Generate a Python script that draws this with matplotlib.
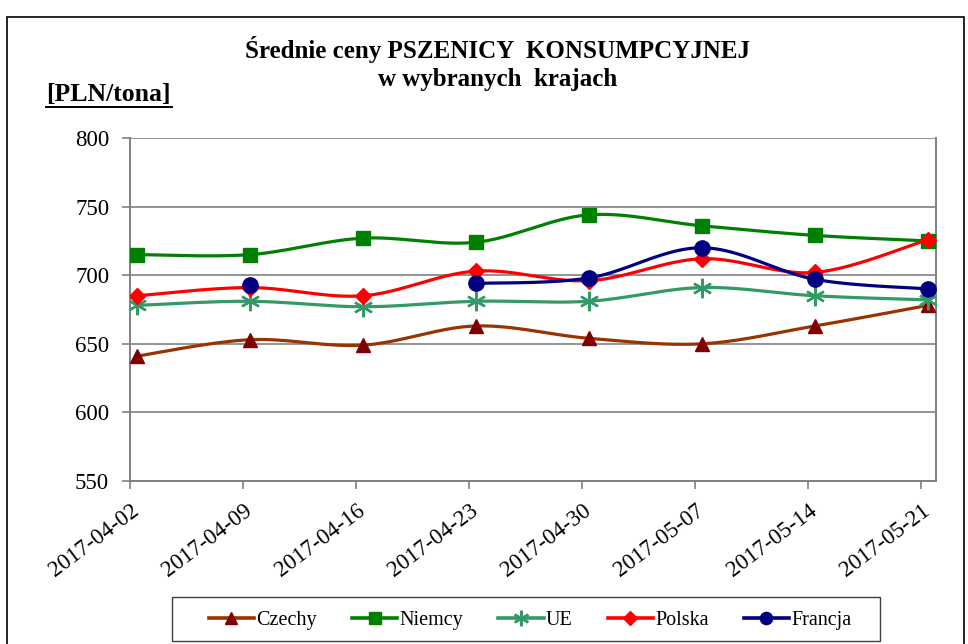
import matplotlib
matplotlib.use("Agg")
import matplotlib.pyplot as plt
import matplotlib.patches as patches
import numpy as np

dates = ["2017-04-02", "2017-04-09", "2017-04-16", "2017-04-23",
         "2017-04-30", "2017-05-07", "2017-05-14", "2017-05-21"]
days = [0, 7, 14, 21, 28, 35, 42, 49]

czechy = [641, 653, 649, 663, 654, 650, 663, 678]
niemcy = [715, 715, 727, 724, 744, 736, 729, 725]
ue = [678, 681, 677, 681, 681, 691, 685, 682]
polska = [685, 691, 685, 703, 696, 712, 702, 726]
francja = [np.nan, 693, np.nan, 694, 698, 720, 697, 690]

y_ticks = [550, 600, 650, 700, 750, 800]


def smooth(x, y, n=30):
    # Excel-like smoothed line (Catmull-Rom through the points)
    x = np.asarray(x, float)
    y = np.asarray(y, float)
    xs, ys = [], []
    for i in range(len(x) - 1):
        i0 = max(i - 1, 0)
        i3 = min(i + 2, len(x) - 1)
        p0, p1, p2, p3 = (np.array([x[k], y[k]]) for k in (i0, i, i + 1, i3))
        c1 = p1 + (p2 - p0) / 6
        c2 = p2 - (p3 - p1) / 6
        t = np.linspace(0, 1, n)[:, None]
        pts = ((1 - t) ** 3) * p1 + 3 * ((1 - t) ** 2) * t * c1 \
            + 3 * (1 - t) * t ** 2 * c2 + t ** 3 * p2
        xs.extend(pts[:, 0])
        ys.extend(pts[:, 1])
    return xs, ys


def plot_series(ax, x, y, color, mcolor, marker, ms, mew=1.0, label=None):
    x = np.asarray(x, float)
    y = np.asarray(y, float)
    # split series at missing values
    ok = ~np.isnan(y)
    runs, cur = [], []
    for i in range(len(y)):
        if ok[i]:
            cur.append(i)
        elif cur:
            runs.append(cur)
            cur = []
    if cur:
        runs.append(cur)
    for r in runs:
        if len(r) > 1:
            sx, sy = smooth(x[r], y[r])
            ax.plot(sx, sy, color=color, lw=2.3, zorder=3, solid_capstyle="round")
    ax.plot(x[ok], y[ok], ls="none", marker=marker, ms=ms, color=mcolor,
            mec=mcolor, mew=mew, zorder=4)
    # legend proxy
    ax.plot([], [], color=color, lw=2.6, marker=marker, ms=ms * 0.8,
            mfc=mcolor, mec=mcolor, mew=mew, label=label)


def main():
    plt.rcParams["font.family"] = ["Liberation Serif", "DejaVu Serif"]
    fig = plt.figure(figsize=(9.68, 6.44), dpi=100)
    ax = fig.add_axes([0.1343, 0.2531, 0.8327, 0.5326])

    plot_series(ax, days, czechy, "#993300", "#800000", "^", 10.5, label="Czechy")
    plot_series(ax, days, niemcy, "#008000", "#008000", "s", 10, label="Niemcy")
    plot_series(ax, days, ue, "#339966", "#339966", (6, 2, 0), 14, mew=1.7, label="UE")
    plot_series(ax, days, polska, "#FF0000", "#FF0000", "D", 8.5, label="Polska")
    plot_series(ax, days, francja, "#000080", "#000080", "o", 11, label="Francja")

    ax.set_ylim(550, 800)
    ax.set_yticks(y_ticks)
    ax.set_xlim(-0.42, 49.5)
    ax.set_xticks(np.array(days) - 0.42)
    ax.set_xticklabels(dates, rotation=37, ha="right", rotation_mode="anchor")
    ax.tick_params(axis="both", labelsize=16.5, color="#808080", length=6, width=1.2)
    ax.tick_params(axis="y", pad=9)
    ax.tick_params(axis="x", pad=8)
    ax.grid(axis="y", color="#808080", lw=1.2)
    ax.set_axisbelow(True)
    for s in ["left", "bottom", "right"]:
        ax.spines[s].set_color("#808080")
        ax.spines[s].set_linewidth(1.4)
    ax.spines["top"].set_visible(False)

    fig.text(0.514, 0.923, "Średnie ceny PSZENICY  KONSUMPCYJNEJ", ha="center",
             va="center", fontsize=18, fontweight="bold")
    fig.text(0.514, 0.876, "w wybranych  krajach", ha="center",
             va="center", fontsize=18, fontweight="bold")
    fig.text(0.048, 0.853, "[PLN/tona]", ha="left", va="center",
             fontsize=18.5, fontweight="bold")
    fig.add_artist(plt.Line2D([0.048, 0.178], [0.834, 0.834], color="black", lw=1.4))

    fig.legend(loc="center", bbox_to_anchor=(0.5475, 0.0365), ncol=5,
               fontsize=14.5, frameon=False,
               handlelength=2.25, handletextpad=0.1, columnspacing=1.75)
    fig.add_artist(patches.Rectangle((172 / 968, 1 - 641 / 644), 708 / 968, 44 / 644,
                                     transform=fig.transFigure, fill=False,
                                     edgecolor="#404040", lw=1.0))

    fig.add_artist(patches.Rectangle((0.007, -0.01), 0.989, 0.984,
                                     transform=fig.transFigure, fill=False,
                                     edgecolor="black", lw=1.2))
    fig.savefig("out.png", dpi=100)


if __name__ == "__main__":
    main()
